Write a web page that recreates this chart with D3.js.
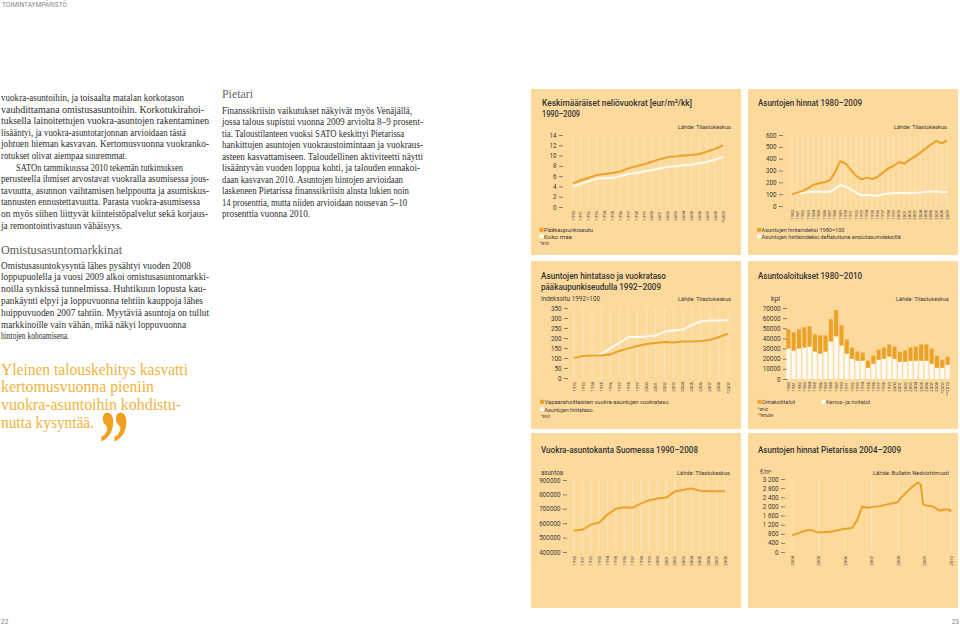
<!DOCTYPE html>
<html><head><meta charset="utf-8">
<script src="https://cdn.jsdelivr.net/npm/d3@7"></script>
<style>body{margin:0;background:#fff}svg{display:block}</style>
</head><body>
<svg id="c" width="960" height="626"></svg>
<script>
// ---------- DATA ----------
// 1. Keskimääräiset neliövuokrat
const rentYears = [1990,1991,1992,1993,1994,1995,1996,1997,1998,1999,2000,2001,2002,2003,2004,2005,2006,2007,2008,2009];
const rentLabels = ["1990","1991","1992","1993","1994","1995","1996","1997","1998","1999","2000","2001","2002","2003","2004","2005","2006","2007","2008","*2009"];
const rentCapital = [4.6,5.2,5.7,6.2,6.4,6.6,6.9,7.5,7.9,8.3,8.8,9.3,9.7,9.8,10.0,10.1,10.3,10.8,11.3,12.0];
const rentWhole = [4.0,4.5,5.0,5.5,5.6,5.7,6.0,6.4,6.6,6.9,7.2,7.5,7.8,7.9,8.1,8.2,8.5,8.8,9.2,9.8];
const rentTicks = [0,2,4,6,8,10,12,14];

// 2. Asuntojen hinnat 1980–2009
const priceYears = [1980,1981,1982,1983,1984,1985,1986,1987,1988,1989,1990,1991,1992,1993,1994,1995,1996,1997,1998,1999,2000,2001,2002,2003,2004,2005,2006,2007,2008,2009];
const priceIndex = [100,112,128,152,178,192,200,215,280,378,360,305,255,225,240,228,245,282,318,340,370,360,390,420,450,485,520,550,530,555];
const priceDeflated = [100,105,110,116,120,121,118,120,140,177,165,140,112,90,94,88,86,98,105,108,112,108,110,112,115,120,123,125,115,120];
const priceTicks = [0,100,200,300,400,500,600];

// 3. Asuntojen hintataso ja vuokrataso pääkaupunkiseudulla
const idxYears = [1992,1993,1994,1995,1996,1997,1998,1999,2000,2001,2002,2003,2004,2005,2006,2007,2008,2009];
const idxLabels = ["1992","1993","1994","1995","1996","1997","1998","1999","2000","2001","2002","2003","2004","2005","2006","2007","2008","*2009"];
const idxRent = [100,110,112,113,118,135,148,160,170,175,180,178,182,183,185,190,205,222];
const idxPrice = [100,108,112,120,148,175,205,205,207,212,232,238,242,265,283,287,288,290];
const idxTicks = [0,50,100,150,200,250,300,350];

// 4. Asuntoaloitukset 1980–2010
const startYears = ["1980","1981","1982","1983","1984","1985","1986","1987","1988","1989","1990","1991","1992","1993","1994","1995","1996","1997","1998","1999","2000","2001","2002","2003","2004","2005","2006","2007","2008","*2009","**2010"];
const startDetached = [19000,18000,19000,20000,20000,17000,18000,16000,22000,26000,20000,14000,11000,9000,8000,7000,8000,10000,11000,12000,12000,10000,11000,13000,14000,16000,16000,15000,12000,8000,8000];
const startBlocks = [30000,28000,30000,31000,32000,27000,25000,27000,37000,42000,33000,25000,20000,18000,18000,11000,15000,19000,20000,22000,20000,17000,17000,18000,18000,18000,18000,15000,11000,11000,14000];
const startTicks = [0,10000,20000,30000,40000,50000,60000,70000];

// 5. Vuokra-asuntokanta Suomessa 1990–2008
const stockYears = [1990,1991,1992,1993,1994,1995,1996,1997,1998,1999,2000,2001,2002,2003,2004,2005,2006,2007,2008];
const stockValues = [548000,556000,590000,605000,660000,700000,710000,708000,738000,760000,772000,778000,820000,830000,842000,825000,822000,822000,822000];
const stockTicks = [400000,500000,600000,700000,800000,900000];

// 6. Asuntojen hinnat Pietarissa 2004–2009
const spbTime = [2004.00,2004.32,2004.57,2004.76,2004.95,2005.26,2005.52,2005.90,2006.27,2006.46,2006.65,2006.84,2006.97,2007.28,2007.66,2007.98,2008.17,2008.42,2008.67,2008.77,2008.86,2008.95,2009.11,2009.30,2009.56,2009.75,2009.93,2009.96,2010.00];
const spbPrice = [730,860,950,950,860,880,900,1000,1050,1400,2000,1930,1960,2000,2100,2180,2440,2730,2980,3050,2950,2080,2030,2000,1810,1860,1860,1780,1860];
const spbYears = [2004,2005,2006,2007,2008,2009,2010];
const spbTicks = [0,400,800,1200,1600,2000,2400,2800,3200];

// ---------- STYLE ----------
const BG="#fdd99c", OR="#eca128", WH="#fffbf2", TX="#3a3a3a";
const SANS="Roboto, 'DejaVu Sans', sans-serif";
const SERIF="'Liberation Serif', 'DejaVu Serif', serif";
const svg=d3.select("#c");

function T(x,y,s,o={}){
  const t=svg.append("text").attr("x",x).attr("y",y).text(s)
    .attr("font-family",o.ff||SANS).attr("font-size",o.fs||6.5).attr("fill",o.fill||TX);
  if(o.fw) t.attr("font-weight",o.fw);
  if(o.anchor) t.attr("text-anchor",o.anchor);
  if(o.w) t.attr("textLength",o.w).attr("lengthAdjust","spacingAndGlyphs");
  return t;
}

// header / footer
T(2,7,"TOIMINTAYMPÄRISTÖ",{fs:6.5,fill:"#8a8a8a",w:65});
T(1,624,"22",{fs:6.5,fill:"#888"});
T(959,624,"23",{fs:6.5,fill:"#888",anchor:"end"});

// ---------- LEFT TEXT COLUMN ----------
const col1a=[
 ["vuokra-asuntoihin, ja toisaalta matalan korkotason",0,183],
 ["vauhdittamana omistusasuntoihin. Korkotukirahoi-",0,203],
 ["tuksella lainoitettujen vuokra-asuntojen rakentaminen",0,208],
 ["lisääntyi, ja vuokra-asuntotarjonnan arvioidaan tästä",0,185],
 ["johtuen hieman kasvavan. Kertomusvuonna vuokranko-",0,208],
 ["rotukset olivat aiempaa suuremmat.",0,126],
 ["SATOn tammikuussa 2010 tekemän tutkimuksen",15,182],
 ["perusteella ihmiset arvostavat vuokralla asumisessa jous-",0,208],
 ["tavuutta, asunnon vaihtamisen helppoutta ja asumiskus-",0,208],
 ["tannusten ennustettavuutta. Parasta vuokra-asumisessa",0,199],
 ["on myös siihen liittyvät kiinteistöpalvelut sekä korjaus-",0,207],
 ["ja remontointivastuun vähäisyys.",0,121]
];
col1a.forEach((l,i)=>T(1+l[1],101+i*11.6,l[0],{ff:SERIF,fs:9.6,fill:"#2e2e2e",w:l[2]-l[1]}));
T(1,254,"Omistusasuntomarkkinat",{ff:SERIF,fs:13,fill:"#5a5a5a",w:121});
const col1b=[
 ["Omistusasuntokysyntä lähes pysähtyi vuoden 2008",190],
 ["loppupuolella ja vuosi 2009 alkoi omistusasuntomarkki-",208],
 ["noilla synkissä tunnelmissa. Huhtikuun lopusta kau-",205],
 ["pankäynti elpyi ja loppuvuonna tehtiin kauppoja lähes",202],
 ["huippuvuoden 2007 tahtiin. Myytäviä asuntoja on tullut",208],
 ["markkinoille vain vähän, mikä näkyi loppuvuonna",185],
 ["hintojen kohoamisena.",68]
];
col1b.forEach((l,i)=>T(1,268.5+i*11.8,l[0],{ff:SERIF,fs:9.6,fill:"#2e2e2e",w:l[1]}));
const quote=[["Yleinen talouskehitys kasvatti",187],["kertomusvuonna pieniin",153],["vuokra-asuntoihin kohdistu-",180],["nutta kysyntää.",93]];
quote.forEach((l,i)=>T(1,374.5+i*17.8,l[0],{ff:SERIF,fs:16.5,fill:"#f2b33e",w:l[1]}));
T(99,476,"”",{ff:SERIF,fs:95,fw:"bold",fill:"#f0a21f",w:30});

// ---------- MIDDLE TEXT COLUMN ----------
T(222,98,"Pietari",{ff:SERIF,fs:13,fill:"#666",w:31});
const col2=[
 ["Finanssikriisin vaikutukset näkyivät myös Venäjällä,",412],
 ["jossa talous supistui vuonna 2009 arviolta 8–9 prosent-",423],
 ["tia. Taloustilanteen vuoksi SATO keskittyi Pietarissa",404],
 ["hankittujen asuntojen vuokraustoimintaan ja vuokraus-",423],
 ["asteen kasvattamiseen. Taloudellinen aktiviteetti näytti",423],
 ["lisääntyvän vuoden loppua kohti, ja talouden ennakoi-",420],
 ["daan kasvavan 2010. Asuntojen hintojen arvioidaan",403],
 ["laskeneen Pietarissa finanssikriisin alusta lukien noin",409],
 ["14 prosenttia, mutta niiden arvioidaan nousevan 5–10",407],
 ["prosenttia vuonna 2010.",310]
];
col2.forEach((l,i)=>T(222,113.5+i*11.5,l[0],{ff:SERIF,fs:9.6,fill:"#2e2e2e",w:l[1]-222}));

// ---------- PANELS ----------
const panels=[[531,89,210,166],[748,89,210,166],[531,261,210,168],[748,261,210,168],[531,433,210,175],[748,433,210,175]];
svg.append("g").selectAll("rect").data(panels).join("rect")
  .attr("x",d=>d[0]).attr("y",d=>d[1]).attr("width",d=>d[2]).attr("height",d=>d[3]).attr("fill",BG);

function yAxis(scale,ticks,fmt,ax){
  const g=svg.append("g").attr("transform",`translate(${ax},0)`)
    .call(d3.axisLeft(scale).tickValues(ticks).tickSize(4).tickPadding(2.5).tickFormat(fmt));
  g.select(".domain").remove();
  g.attr("font-family",SANS).attr("font-size",6.3);
  g.selectAll("line").attr("stroke",TX).attr("stroke-width",0.6);
  g.selectAll("text").attr("fill",TX);
}
function xLabels(xs,labels,yTop){
  svg.append("g").selectAll("text").data(labels).join("text")
    .attr("transform",(d,i)=>`translate(${xs[i]+1.5},${yTop}) rotate(-90)`)
    .attr("text-anchor","end").attr("font-family",SANS).attr("font-size",4.3).attr("fill",TX).text(d=>d);
}
function grid(xs,yt,yb){
  svg.append("g").selectAll("line").data(xs).join("line")
    .attr("x1",d=>d).attr("x2",d=>d).attr("y1",yt).attr("y2",yb)
    .attr("stroke","#fff").attr("stroke-opacity",0.55).attr("stroke-width",0.6);
}
function lineChart(c){
  const x=d3.scalePoint().domain(c.years).range([c.x0,c.x1]);
  const y=d3.scaleLinear().domain(c.dom).range([c.yb,c.yt]);
  const xs=c.years.map(d=>x(d));
  grid(xs,c.yt,c.yb);
  yAxis(y,c.ticks,c.fmt||(d=>d),c.ax);
  xLabels(xs,c.labels||c.years.map(String),c.xly);
  c.series.forEach(s=>{
    svg.append("path").datum(s.v).attr("fill","none").attr("stroke",s.c).attr("stroke-width",2)
      .attr("stroke-linejoin","round")
      .attr("d",d3.line().x((d,i)=>x(c.years[i])).y(d=>y(d)));
  });
}
function legend(x,y,col,label,w,fs){
  svg.append("rect").attr("x",x).attr("y",y-2.2).attr("width",4).attr("height",4).attr("fill",col);
  T(x+4.5,y+2,label,{fs:fs||6,w:w});
}
function title(x,y,s,w){ T(x,y,s,{fs:9.4,fw:500,fill:"#333",w:w}); }

// Chart 1
title(542,106,"Keskimääräiset neliövuokrat [eur/m²/kk]",150);
title(542,116.5,"1990–2009",38);
T(731,128.5,"Lähde: Tilastokeskus",{fs:6,anchor:"end",w:53});
lineChart({years:rentYears,labels:rentLabels,x0:573,x1:723,yb:207,yt:135,dom:[0,14],ticks:rentTicks,ax:563,xly:211,
  series:[{v:rentWhole,c:WH},{v:rentCapital,c:OR}]});
legend(539.5,230,OR,"Pääkaupunkiseutu",49);
legend(539.5,236.5,WH,"Koko maa",28);
T(540,244.5,"*arvio",{fs:4.5,w:9});

// Chart 2
title(758,106,"Asuntojen hinnat 1980–2009",104);
T(947,128.5,"Lähde: Tilastokeskus",{fs:6,anchor:"end",w:53});
lineChart({years:priceYears,x0:792,x1:947,yb:206,yt:135,dom:[0,600],ticks:priceTicks,ax:783,xly:210,
  series:[{v:priceDeflated,c:WH},{v:priceIndex,c:OR}]});
legend(757,230,OR,"Asuntojen hintaindeksi 1980=100",83);
legend(757,236.5,WH,"Asuntojen hintaindeksi deflatoituna ansiotasoindeksillä",139);

// Chart 3
title(541,279,"Asuntojen hintataso ja vuokrataso",125);
title(541,290,"pääkaupunkiseudulla 1992–2009",120);
T(541,300.5,"Indeksoitu 1992=100",{fs:6.3,w:59});
T(731,300.5,"Lähde: Tilastokeskus",{fs:6,anchor:"end",w:53});
lineChart({years:idxYears,labels:idxLabels,x0:574,x1:728,yb:378,yt:308,dom:[0,350],ticks:idxTicks,ax:568,xly:382,
  series:[{v:idxPrice,c:WH},{v:idxRent,c:OR}]});
legend(540,402,OR,"Vapaarahoitteisten vuokra-asuntojen vuokrataso",124);
legend(540,409.5,WH,"Asuntojen hintataso",48);
T(541,418,"*arvio",{fs:4.5,w:9});

// Chart 4
title(758,279,"Asuntoaloitukset 1980–2010",104);
T(771,300.5,"kpl",{fs:6.3,w:9});
T(949,300.5,"Lähde: Tilastokeskus",{fs:6,anchor:"end",w:53});
{
  const x=d3.scaleBand().domain(startYears).range([786.4,949.6]).paddingInner(0.25);
  const y=d3.scaleLinear().domain([0,70000]).range([379,308]);
  yAxis(y,startTicks,d=>d,787);
  const g=svg.append("g");
  g.selectAll("rect.b").data(startYears).join("rect").attr("class","b")
    .attr("x",d=>x(d)).attr("width",x.bandwidth())
    .attr("y",(d,i)=>y(startBlocks[i])).attr("height",(d,i)=>y(0)-y(startBlocks[i])).attr("fill",WH);
  g.selectAll("rect.o").data(startYears).join("rect").attr("class","o")
    .attr("x",d=>x(d)).attr("width",x.bandwidth())
    .attr("y",(d,i)=>y(startBlocks[i]+startDetached[i])).attr("height",(d,i)=>y(startBlocks[i])-y(startBlocks[i]+startDetached[i])).attr("fill",OR);
  xLabels(startYears.map(d=>x(d)+x.bandwidth()/2),startYears,382);
}
legend(757.5,402,OR,"Omakotitalot",33);
legend(821.5,402,WH,"Kerros- ja rivitalot",44);
T(758,410.5,"*arvio",{fs:4.5,w:10});
T(758,417,"**ennuste",{fs:4.5,w:15});

// Chart 5
title(541,453,"Vuokra-asuntokanta Suomessa 1990–2008",157);
T(541,474.5,"asuntoa",{fs:6.3,w:22});
T(730,474.5,"Lähde: Tilastokeskus",{fs:6,anchor:"end",w:53});
lineChart({years:stockYears,x0:574,x1:725,yb:552,yt:480,dom:[400000,900000],ticks:stockTicks,ax:567,xly:556,
  series:[{v:stockValues,c:OR}]});

// Chart 6
title(758,453,"Asuntojen hinnat Pietarissa 2004–2009",143);
T(760,474,"€/m²",{fs:6.3,w:11});
T(949,474.5,"Lähde: Bulletin Nedvizhimosti",{fs:6,anchor:"end",w:76});
{
  const x=d3.scaleLinear().domain([2004,2010]).range([792,951]);
  const y=d3.scaleLinear().domain([0,3200]).range([552,479]);
  const xs=spbYears.map(d=>x(d));
  grid(xs,479,552);
  yAxis(y,spbTicks,d=>d>=1000?d3.format(",")(d).replace(","," "):d,785);
  xLabels(xs,spbYears.map(String),556);
  svg.append("path").datum(spbPrice).attr("fill","none").attr("stroke",OR).attr("stroke-width",2)
    .attr("stroke-linejoin","round")
    .attr("d",d3.line().x((d,i)=>x(spbTime[i])).y(d=>y(d)));
}
</script>
</body></html>
